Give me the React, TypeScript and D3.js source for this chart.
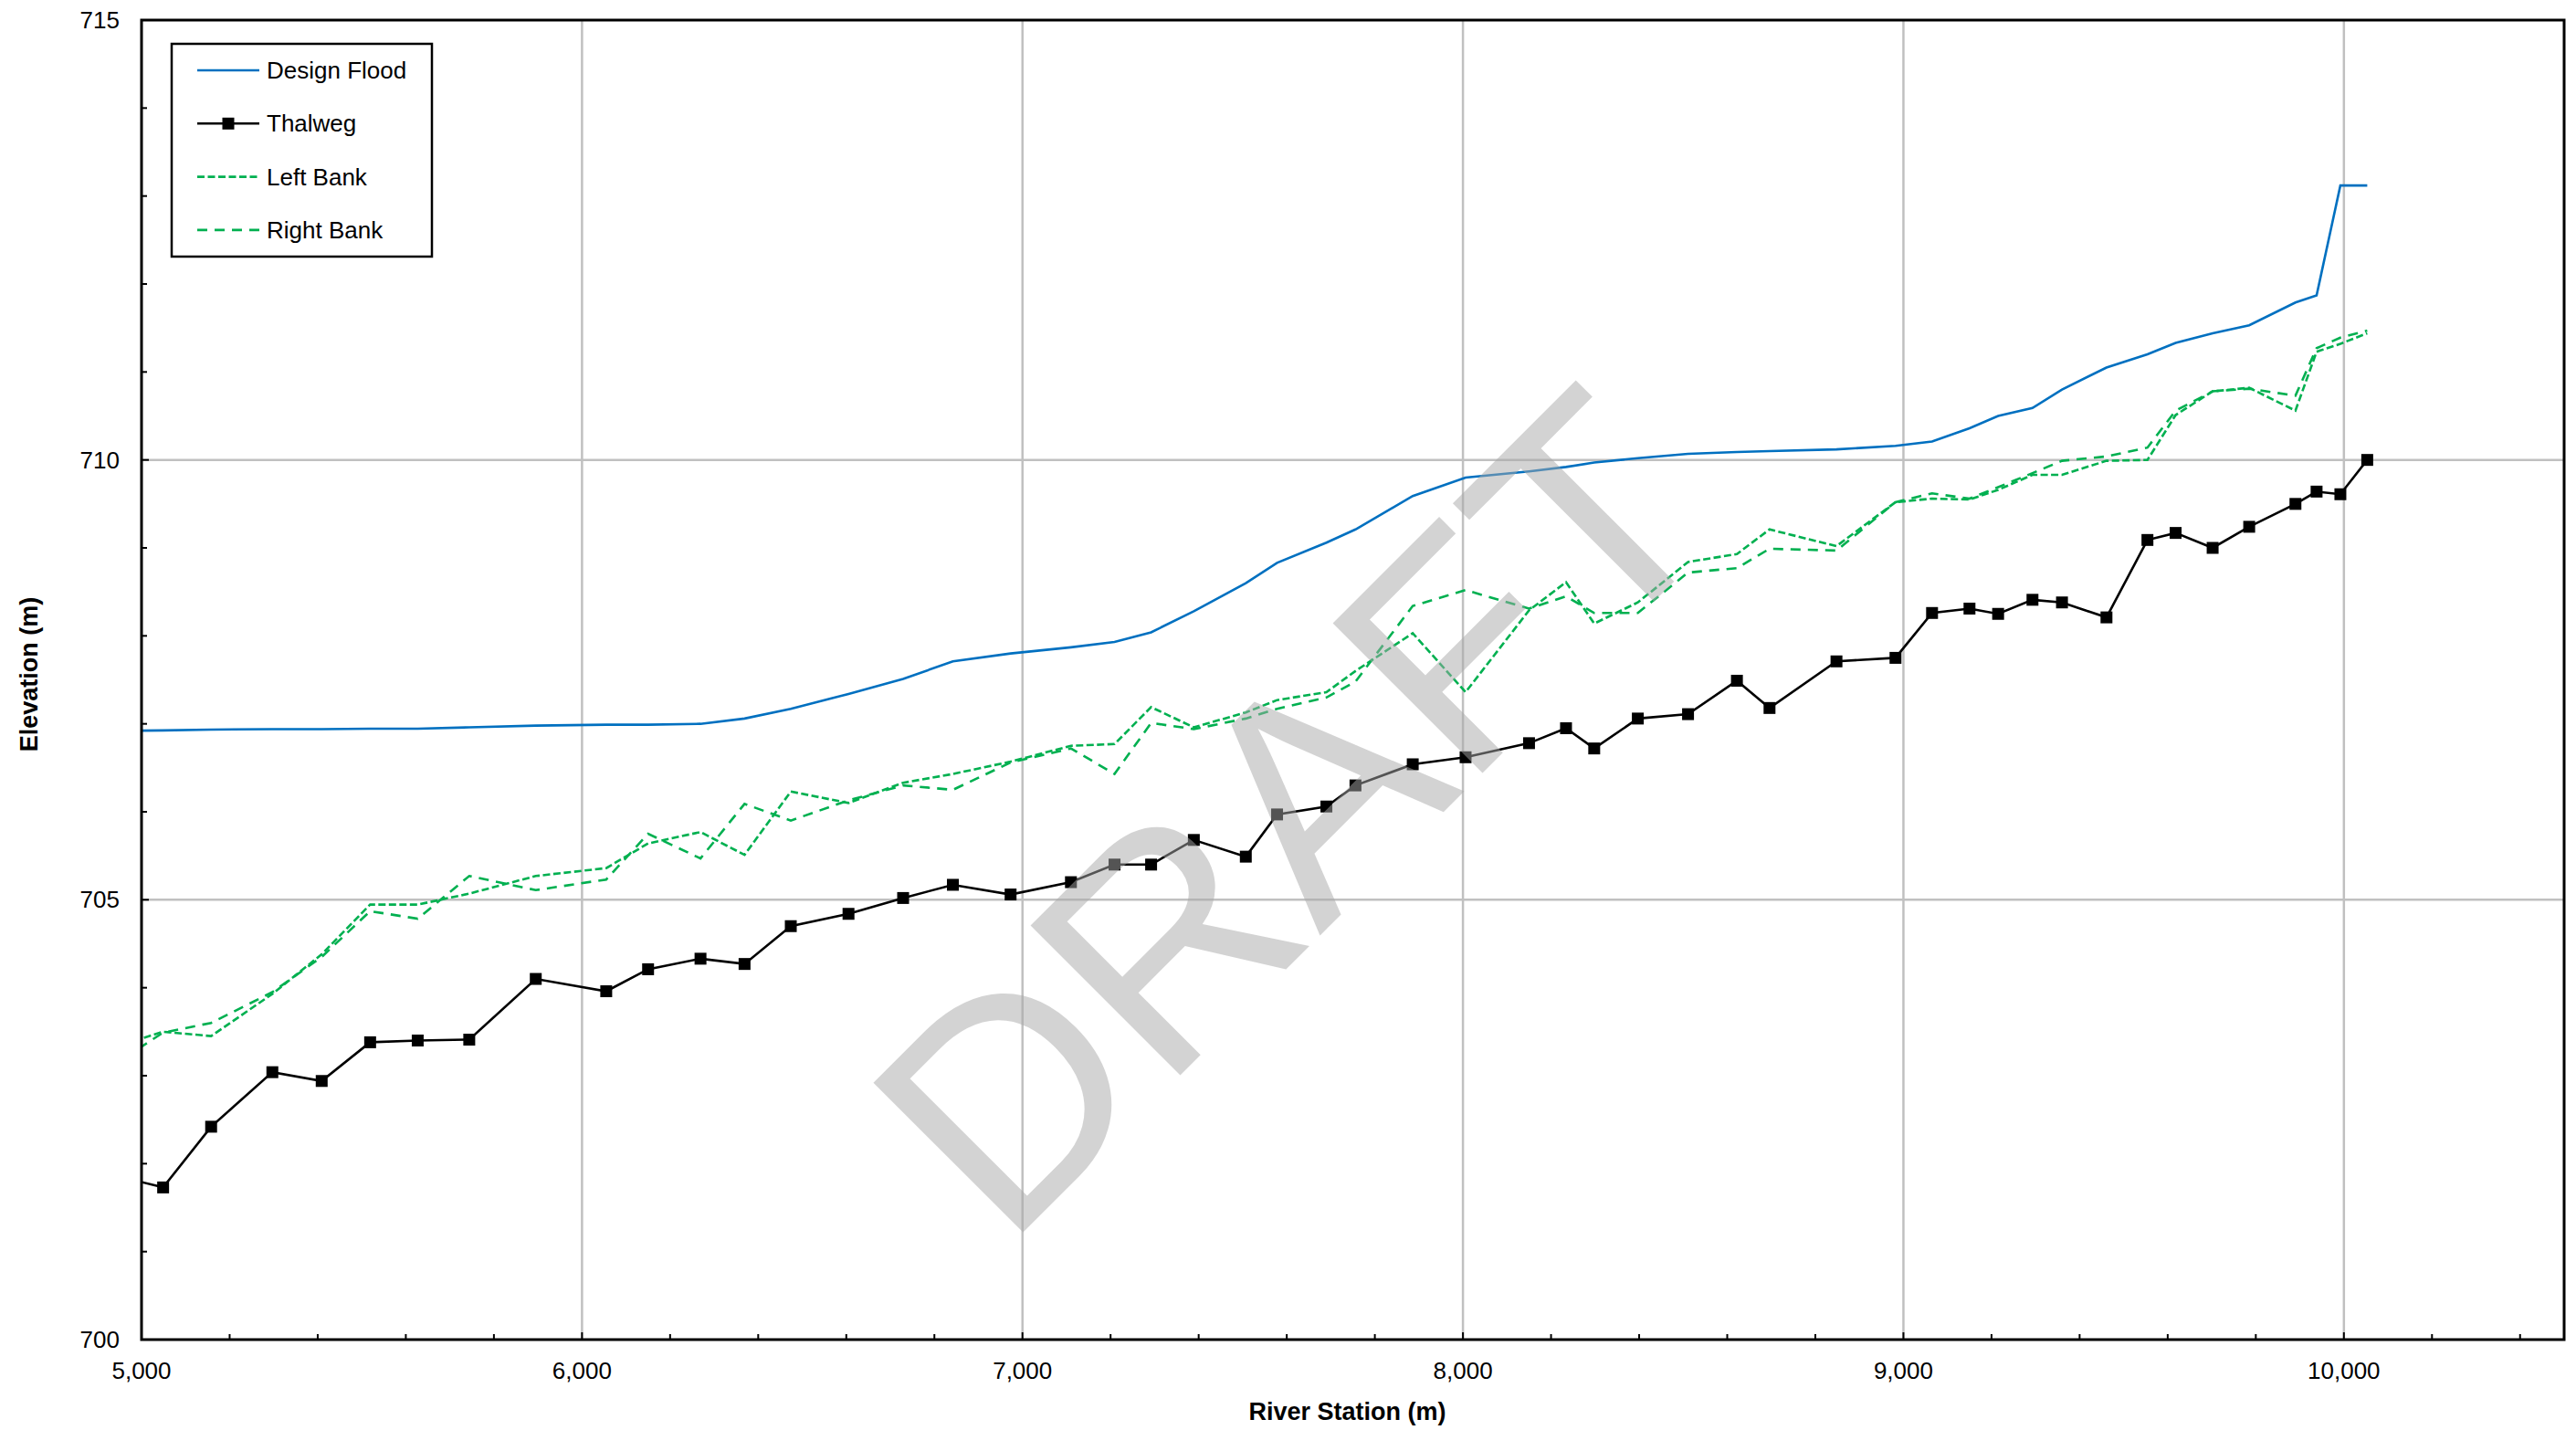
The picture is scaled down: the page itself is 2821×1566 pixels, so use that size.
import * as d3 from 'd3'
import { useEffect, useRef } from 'react'

// river stations (m); first one sits just off the left edge and gets clipped
const stations = [
  4960, 5049, 5158, 5297, 5409, 5519, 5627, 5744, 5895, 6055,
  6150, 6269, 6369, 6474, 6605, 6729, 6842, 6973, 7110, 7209,
  7292, 7389, 7507, 7578, 7690, 7756, 7886, 8006, 8150, 8234,
  8298, 8397, 8511, 8622, 8696, 8848, 8982, 9065, 9150, 9215,
  9293, 9360, 9461, 9554, 9618, 9702, 9785, 9890, 9938, 9992,
  10053,
]

const designFlood = [
  706.92, 706.925, 706.935, 706.94, 706.94, 706.945, 706.945, 706.96, 706.98, 706.99,
  706.99, 707.0, 707.06, 707.17, 707.34, 707.51, 707.71, 707.8, 707.87, 707.93,
  708.04, 708.28, 708.6, 708.83, 709.06, 709.21, 709.59, 709.8, 709.87, 709.92,
  709.97, 710.02, 710.07, 710.09, 710.1, 710.12, 710.16, 710.21, 710.36, 710.5,
  710.59, 710.8, 711.05, 711.2, 711.33, 711.44, 711.53, 711.79, 711.87, 713.12,
  713.12,
]

const thalweg = [
  701.84, 701.73, 702.42, 703.04, 702.94, 703.38, 703.4, 703.41, 704.1, 703.96,
  704.21, 704.33, 704.27, 704.7, 704.84, 705.02, 705.17, 705.06, 705.2, 705.4,
  705.4, 705.68, 705.49, 705.97, 706.06, 706.3, 706.54, 706.62, 706.78, 706.95,
  706.72, 707.06, 707.11, 707.49, 707.18, 707.71, 707.75, 708.26, 708.31, 708.25,
  708.41, 708.38, 708.21, 709.09, 709.17, 709.0, 709.24, 709.5, 709.64, 709.61,
  710.0,
]

const leftBank = [
  703.36, 703.5, 703.45, 703.93, 704.38, 704.945, 704.945, 705.07, 705.27, 705.36,
  705.64, 705.77, 705.51, 706.23, 706.1, 706.33, 706.43, 706.57, 706.75, 706.77,
  707.19, 706.96, 707.13, 707.27, 707.36, 707.6, 708.03, 707.36, 708.29, 708.61,
  708.14, 708.38, 708.84, 708.93, 709.21, 709.02, 709.52, 709.56, 709.55, 709.66,
  709.83, 709.83, 709.99, 710.0, 710.51, 710.78, 710.82, 710.56, 711.23, 711.32,
  711.44,
]

const rightBank = [
  703.2, 703.49, 703.6, 703.95, 704.35, 704.87, 704.785, 705.27, 705.11, 705.23,
  705.75, 705.47, 706.09, 705.9, 706.13, 706.3, 706.25, 706.56, 706.72, 706.43,
  707.01, 706.94, 707.06, 707.17, 707.3, 707.48, 708.34, 708.52, 708.31, 708.45,
  708.26, 708.26, 708.72, 708.77, 708.99, 708.97, 709.52, 709.62, 709.56, 709.69,
  709.85, 709.99, 710.04, 710.14, 710.56, 710.78, 710.81, 710.73, 711.27, 711.39,
  711.47,
]

const xTicks = [5000, 6000, 7000, 8000, 9000, 10000]
const yTicks = [700, 705, 710, 715]
const legendLabels = ['Design Flood', 'Thalweg', 'Left Bank', 'Right Bank']

const FONT = '"Liberation Sans", Arial, sans-serif'
const BLUE = '#0070c0'
const GREEN = '#00b050'

const App = () => {
  const svgRef = useRef<SVGSVGElement>(null)

  useEffect(() => {
    const width = 2821
    const height = 1566
    const margin = { top: 22, right: 13, bottom: 99, left: 155 }

    const x = d3.scaleLinear().domain([5000, 10500]).range([margin.left, width - margin.right])
    const y = d3.scaleLinear().domain([700, 715]).range([height - margin.bottom, margin.top])

    const svg = d3.select(svgRef.current)
    svg.selectAll('*').remove()

    svg.append('rect').attr('width', width).attr('height', height).attr('fill', '#fff')

    svg.append('clipPath').attr('id', 'plot-clip')
      .append('rect')
      .attr('x', x(5000)).attr('y', y(715))
      .attr('width', x(10500) - x(5000)).attr('height', y(700) - y(715))

    // grid
    const grid = svg.append('g').attr('stroke', '#c0c0c0').attr('stroke-width', 2.5)
    grid.selectAll('.gx')
      .data(xTicks.filter(d => d > 5000))
      .join('line')
      .attr('x1', d => x(d)).attr('x2', d => x(d))
      .attr('y1', y(700)).attr('y2', y(715))
    grid.selectAll('.gy')
      .data(yTicks.filter(d => d > 700 && d < 715))
      .join('line')
      .attr('x1', x(5000)).attr('x2', x(10500))
      .attr('y1', d => y(d)).attr('y2', d => y(d))

    // series
    const idx = stations.map((_, i) => i)
    const plot = svg.append('g').attr('clip-path', 'url(#plot-clip)')
    const lineOf = (vals: number[]) => d3.line<number>()
      .x(i => x(stations[i]))
      .y(i => y(vals[i]))(idx)

    plot.append('path').attr('d', lineOf(designFlood))
      .attr('fill', 'none').attr('stroke', BLUE).attr('stroke-width', 2.6)
    plot.append('path').attr('d', lineOf(leftBank))
      .attr('fill', 'none').attr('stroke', GREEN).attr('stroke-width', 2.6)
      .attr('stroke-dasharray', '8,3.5')
    plot.append('path').attr('d', lineOf(rightBank))
      .attr('fill', 'none').attr('stroke', GREEN).attr('stroke-width', 2.6)
      .attr('stroke-dasharray', '11,8')
    plot.append('path').attr('d', lineOf(thalweg))
      .attr('fill', 'none').attr('stroke', '#000').attr('stroke-width', 2.6)
    plot.selectAll('.mk')
      .data(idx)
      .join('rect')
      .attr('x', i => x(stations[i]) - 6.5)
      .attr('y', i => y(thalweg[i]) - 6.5)
      .attr('width', 13).attr('height', 13)
      .attr('fill', '#000')

    // frame + inward ticks
    svg.append('rect')
      .attr('x', x(5000)).attr('y', y(715))
      .attr('width', x(10500) - x(5000)).attr('height', y(700) - y(715))
      .attr('fill', 'none').attr('stroke', '#000').attr('stroke-width', 3)

    const ticks = svg.append('g').attr('stroke', '#000').attr('stroke-width', 2)
    ticks.selectAll('.tx')
      .data(d3.range(5200, 10500, 200))
      .join('line')
      .attr('x1', d => x(d)).attr('x2', d => x(d))
      .attr('y1', y(700)).attr('y2', d => y(700) - (d % 1000 === 0 ? 8 : 6))
    ticks.selectAll('.ty')
      .data(d3.range(701, 715, 1))
      .join('line')
      .attr('y1', d => y(d)).attr('y2', d => y(d))
      .attr('x1', x(5000)).attr('x2', d => x(5000) + (d % 5 === 0 ? 8 : 6))

    const fmt = d3.format(',')
    svg.append('g').selectAll('text')
      .data(xTicks)
      .join('text')
      .attr('x', d => x(d)).attr('y', y(700) + 43)
      .attr('text-anchor', 'middle')
      .attr('font-family', FONT).attr('font-size', 26)
      .text(d => fmt(d))
    svg.append('g').selectAll('text')
      .data(yTicks)
      .join('text')
      .attr('x', x(5000) - 24).attr('y', d => y(d))
      .attr('dy', '0.35em')
      .attr('text-anchor', 'end')
      .attr('font-family', FONT).attr('font-size', 26)
      .text(d => d)

    // axis titles
    svg.append('text')
      .attr('x', (x(5000) + x(10500)) / 2 - 6).attr('y', 1555)
      .attr('text-anchor', 'middle')
      .attr('font-family', FONT).attr('font-size', 27).attr('font-weight', 'bold')
      .text('River Station (m)')
    svg.append('text')
      .attr('transform', `translate(41, ${(y(700) + y(715)) / 2 - 6}) rotate(-90)`)
      .attr('text-anchor', 'middle')
      .attr('font-family', FONT).attr('font-size', 27).attr('font-weight', 'bold')
      .text('Elevation (m)')

    // legend
    const lg = svg.append('g')
    lg.append('rect')
      .attr('x', 188).attr('y', 48).attr('width', 285).attr('height', 233)
      .attr('fill', '#fff').attr('stroke', '#000').attr('stroke-width', 2.5)
    const rowY = (i: number) => 77 + i * 58.3
    const styles = [
      { stroke: BLUE, dash: null },
      { stroke: '#000', dash: null },
      { stroke: GREEN, dash: '8,3.5' },
      { stroke: GREEN, dash: '11,8' },
    ]
    legendLabels.forEach((label, i) => {
      lg.append('line')
        .attr('x1', 216).attr('x2', 284).attr('y1', rowY(i)).attr('y2', rowY(i))
        .attr('stroke', styles[i].stroke).attr('stroke-width', 2.6)
        .attr('stroke-dasharray', styles[i].dash)
      if (label === 'Thalweg') {
        lg.append('rect')
          .attr('x', 250 - 6.5).attr('y', rowY(i) - 6.5)
          .attr('width', 13).attr('height', 13).attr('fill', '#000')
      }
      lg.append('text')
        .attr('x', 292).attr('y', rowY(i)).attr('dy', '0.35em')
        .attr('font-family', FONT).attr('font-size', 26)
        .text(label)
    })

    // watermark on top
    svg.append('text')
      .attr('x', 1498).attr('y', 972)
      .attr('transform', 'rotate(-45, 1498, 972)')
      .attr('text-anchor', 'middle')
      .attr('font-family', FONT).attr('font-size', 337)
      .attr('fill', '#a8a8a8').attr('fill-opacity', 0.5)
      .text('DRAFT')
  }, [])

  return (
    <svg
      ref={svgRef}
      width={2821}
      height={1566}
      style={{ position: 'absolute', left: 0, top: 0 }}
    />
  )
}

export default App
